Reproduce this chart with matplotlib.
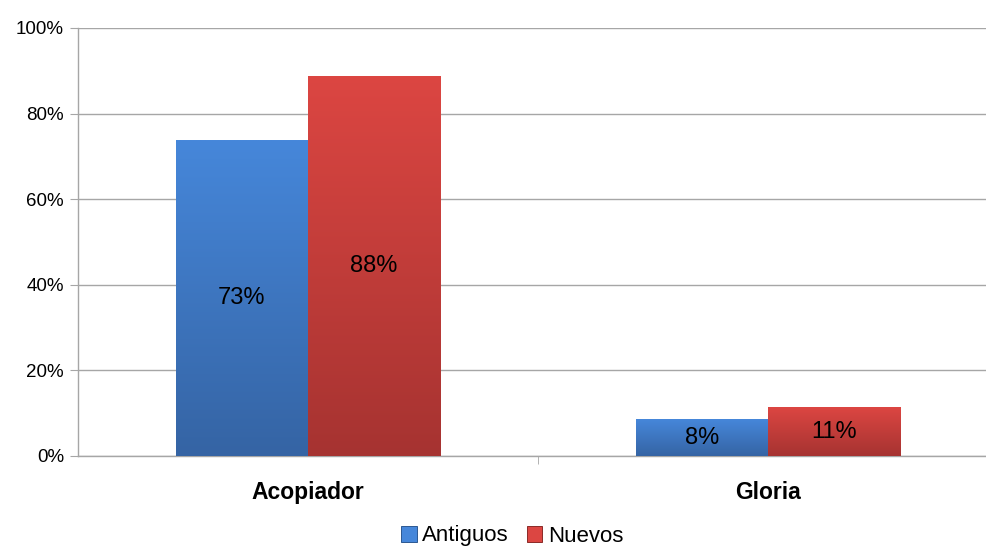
import matplotlib
matplotlib.use("Agg")
import matplotlib.pyplot as plt
import numpy as np
from matplotlib.colors import LinearSegmentedColormap

plt.rcParams['font.family'] = ['Liberation Sans', 'DejaVu Sans']

categories = ["Acopiador", "Gloria"]
series_names = ["Antiguos", "Nuevos"]
antiguos = [73.8, 8.6]
nuevos = [88.8, 11.4]
value_labels = [["73%", "8%"], ["88%", "11%"]]
yticks = [0, 20, 40, 60, 80, 100]
ytick_labels = ["0%", "20%", "40%", "60%", "80%", "100%"]

colors_top = ["#4687DA", "#DC4642"]
colors_bot = ["#3564A4", "#A63331"]
edge_cols = ["#2C5892", "#8A2A27"]

fig = plt.figure(figsize=(9.86, 5.48), dpi=100)
ax = fig.add_axes([78/986, 92/548, 920/986, 428/548])

x = np.arange(len(categories))
w = 0.287
series = [antiguos, nuevos]
offsets = [-w/2, w/2]
grid_c = "#A6A6A6"

for i, (vals, off) in enumerate(zip(series, offsets)):
    bars = ax.bar(x + off, vals, width=w, color=colors_top[i], edgecolor=edge_cols[i],
                  linewidth=0.7, zorder=3, label=series_names[i])
    cmap = LinearSegmentedColormap.from_list("g%d" % i, [colors_bot[i], colors_top[i]])
    for b, lab in zip(bars, value_labels[i]):
        x0, y0 = b.get_x(), b.get_y()
        bw, bh = b.get_width(), b.get_height()
        grad = np.linspace(0, 1, 256).reshape(-1, 1)
        im = ax.imshow(grad, extent=[x0, x0 + bw, y0, y0 + bh], origin="lower",
                       cmap=cmap, aspect="auto", zorder=3.5)
        im.set_clip_path(b)
        ax.text(x0 + bw/2, y0 + bh/2, lab, ha="center", va="center", fontsize=17,
                color="black", zorder=5)

ax.set_xlim(-0.5, 1.5)
ax.set_ylim(0, 100)
ax.set_yticks(yticks)
ax.set_yticklabels(ytick_labels, fontsize=13.5)
ax.set_xticks([0.5], minor=True)
ax.set_xticks(x)
ax.set_xticklabels(categories, fontsize=16.5, fontweight="bold")
ax.tick_params(axis="x", which="major", length=0, pad=18)
ax.tick_params(axis="x", which="minor", length=6, color=grid_c, direction="out")
ax.tick_params(axis="y", length=6, color=grid_c, pad=4)
ax.yaxis.grid(True, color=grid_c, linewidth=1.0, zorder=0)
ax.set_axisbelow(True)
for s in ["top", "right"]:
    ax.spines[s].set_visible(False)
for s in ["left", "bottom"]:
    ax.spines[s].set_color(grid_c)
    ax.spines[s].set_linewidth(1.0)

handles, labels = ax.get_legend_handles_labels()
leg = fig.legend(handles, labels, loc="center", bbox_to_anchor=(512/986, 12/548),
                 ncol=2, frameon=False, fontsize=16, handlelength=0.7, handleheight=0.7,
                 handletextpad=0.25, columnspacing=0.8, borderpad=0.1)

fig.savefig("out.png", dpi=100)
